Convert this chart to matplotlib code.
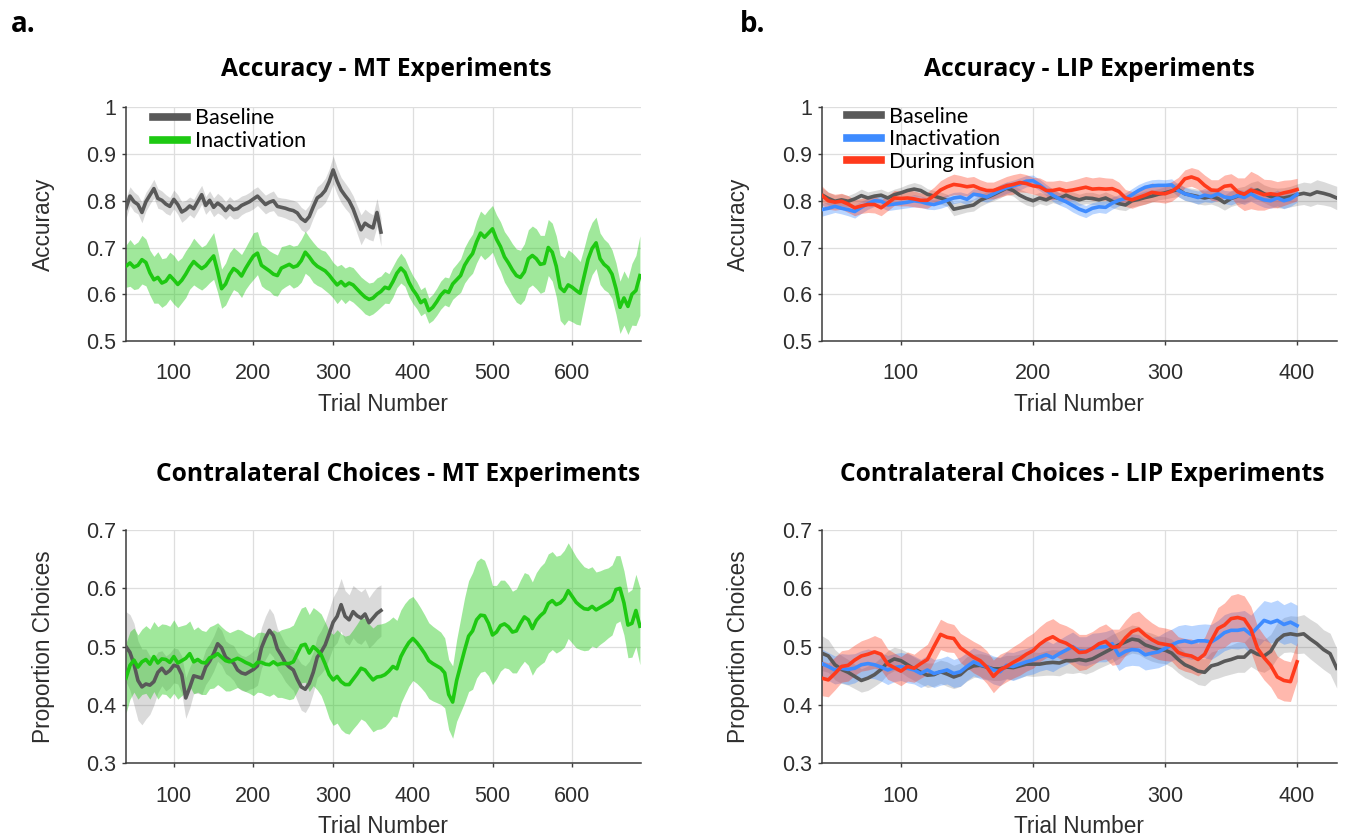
import numpy as np
import matplotlib
matplotlib.use("Agg")
import matplotlib.pyplot as plt
from matplotlib.lines import Line2D

# ---------------------------------------------------------------- data
# Trial numbers (running-window centres)
trials_mt_base = np.arange(40, 361, 5)
trials_mt_inact = np.arange(40, 686, 5)
trials_lip_base = np.arange(40, 431, 5)
trials_lip_inact = np.arange(40, 401, 5)
trials_lip_inf = np.arange(40, 401, 5)

# Accuracy - MT experiments
mt_acc_base = [
    0.784, 0.810, 0.798, 0.792, 0.775, 0.798, 0.812, 0.826, 0.805, 0.801, 0.793, 0.788,
    0.803, 0.792, 0.776, 0.781, 0.789, 0.783, 0.798, 0.813, 0.790, 0.801, 0.786, 0.795,
    0.789, 0.779, 0.789, 0.781, 0.783, 0.790, 0.794, 0.798, 0.804, 0.810, 0.801, 0.792,
    0.797, 0.800, 0.788, 0.786, 0.784, 0.781, 0.779, 0.774, 0.762, 0.756, 0.766, 0.787,
    0.806, 0.812, 0.822, 0.841, 0.866, 0.842, 0.823, 0.811, 0.800, 0.783, 0.760, 0.738,
    0.752, 0.746, 0.742, 0.775, 0.733]
mt_acc_base_err = [
    0.022, 0.020, 0.021, 0.020, 0.022, 0.020, 0.019, 0.020, 0.021, 0.020, 0.020, 0.019,
    0.020, 0.021, 0.022, 0.020, 0.019, 0.020, 0.021, 0.020, 0.019, 0.020, 0.020, 0.021,
    0.020, 0.019, 0.020, 0.020, 0.021, 0.020, 0.019, 0.020, 0.021, 0.020, 0.020, 0.020,
    0.020, 0.021, 0.020, 0.020, 0.021, 0.022, 0.022, 0.023, 0.024, 0.024, 0.025, 0.024,
    0.024, 0.025, 0.026, 0.027, 0.030, 0.028, 0.027, 0.027, 0.026, 0.028, 0.030, 0.032,
    0.030, 0.029, 0.028, 0.030, 0.030]
mt_acc_inact = [
    0.660, 0.667, 0.658, 0.662, 0.674, 0.668, 0.646, 0.631, 0.636, 0.624, 0.628, 0.640,
    0.631, 0.621, 0.630, 0.643, 0.658, 0.670, 0.662, 0.655, 0.661, 0.672, 0.682, 0.649,
    0.612, 0.622, 0.642, 0.655, 0.649, 0.639, 0.655, 0.669, 0.682, 0.688, 0.662, 0.656,
    0.650, 0.643, 0.640, 0.656, 0.660, 0.664, 0.658, 0.661, 0.672, 0.690, 0.680, 0.668,
    0.660, 0.655, 0.650, 0.641, 0.630, 0.620, 0.627, 0.618, 0.624, 0.620, 0.611, 0.602,
    0.594, 0.589, 0.592, 0.600, 0.606, 0.615, 0.612, 0.627, 0.645, 0.656, 0.647, 0.626,
    0.610, 0.598, 0.582, 0.588, 0.565, 0.572, 0.584, 0.598, 0.607, 0.604, 0.622, 0.631,
    0.640, 0.662, 0.676, 0.687, 0.712, 0.731, 0.722, 0.731, 0.740, 0.718, 0.702, 0.680,
    0.667, 0.652, 0.640, 0.636, 0.648, 0.676, 0.683, 0.676, 0.664, 0.666, 0.700, 0.690,
    0.660, 0.614, 0.606, 0.620, 0.615, 0.608, 0.602, 0.638, 0.675, 0.698, 0.710, 0.676,
    0.664, 0.657, 0.643, 0.612, 0.572, 0.592, 0.574, 0.600, 0.608, 0.640]
mt_acc_inact_err = [
    0.045, 0.050, 0.048, 0.050, 0.052, 0.050, 0.048, 0.050, 0.055, 0.052, 0.050, 0.050,
    0.052, 0.050, 0.048, 0.050, 0.047, 0.050, 0.048, 0.046, 0.045, 0.047, 0.050, 0.045,
    0.042, 0.045, 0.047, 0.045, 0.044, 0.046, 0.045, 0.047, 0.050, 0.046, 0.044, 0.045,
    0.043, 0.045, 0.044, 0.046, 0.044, 0.043, 0.045, 0.044, 0.046, 0.045, 0.042, 0.043,
    0.041, 0.040, 0.042, 0.040, 0.038, 0.040, 0.037, 0.038, 0.036, 0.037, 0.036, 0.035,
    0.036, 0.035, 0.034, 0.035, 0.033, 0.034, 0.032, 0.033, 0.031, 0.032, 0.030, 0.031,
    0.030, 0.029, 0.028, 0.028, 0.027, 0.028, 0.029, 0.030, 0.030, 0.031, 0.033, 0.034,
    0.036, 0.038, 0.040, 0.042, 0.045, 0.047, 0.048, 0.050, 0.050, 0.052, 0.053, 0.054,
    0.055, 0.056, 0.057, 0.058, 0.060, 0.062, 0.063, 0.064, 0.062, 0.060, 0.060, 0.062,
    0.065, 0.070, 0.072, 0.075, 0.074, 0.072, 0.068, 0.062, 0.058, 0.056, 0.055, 0.055,
    0.054, 0.053, 0.052, 0.055, 0.056, 0.058, 0.060, 0.066, 0.075, 0.085]

# Contralateral choices - MT experiments
mt_con_base = [
    0.500, 0.490, 0.470, 0.442, 0.431, 0.436, 0.434, 0.440, 0.456, 0.463, 0.454, 0.459,
    0.468, 0.466, 0.452, 0.412, 0.430, 0.450, 0.448, 0.446, 0.465, 0.475, 0.488, 0.505,
    0.498, 0.482, 0.477, 0.472, 0.460, 0.455, 0.453, 0.457, 0.461, 0.467, 0.498, 0.515,
    0.528, 0.519, 0.496, 0.485, 0.472, 0.465, 0.460, 0.444, 0.431, 0.427, 0.437, 0.456,
    0.482, 0.491, 0.503, 0.522, 0.542, 0.552, 0.572, 0.552, 0.546, 0.560, 0.553, 0.549,
    0.556, 0.541, 0.549, 0.557, 0.562]
mt_con_base_err = [
    0.060, 0.065, 0.070, 0.068, 0.065, 0.060, 0.050, 0.040, 0.035, 0.030, 0.030, 0.030,
    0.030, 0.030, 0.032, 0.035, 0.035, 0.030, 0.028, 0.028, 0.030, 0.030, 0.030, 0.030,
    0.030, 0.028, 0.028, 0.030, 0.030, 0.030, 0.030, 0.030, 0.032, 0.033, 0.035, 0.037,
    0.038, 0.037, 0.035, 0.033, 0.032, 0.033, 0.035, 0.037, 0.040, 0.040, 0.038, 0.035,
    0.035, 0.037, 0.040, 0.042, 0.043, 0.045, 0.045, 0.044, 0.043, 0.045, 0.046, 0.045,
    0.044, 0.043, 0.045, 0.045, 0.044]
mt_con_inact = [
    0.446, 0.468, 0.477, 0.465, 0.474, 0.478, 0.470, 0.483, 0.472, 0.479, 0.478, 0.473,
    0.483, 0.472, 0.476, 0.480, 0.488, 0.474, 0.478, 0.473, 0.472, 0.481, 0.483, 0.488,
    0.482, 0.476, 0.474, 0.477, 0.480, 0.477, 0.473, 0.470, 0.466, 0.473, 0.473, 0.470,
    0.469, 0.474, 0.469, 0.471, 0.471, 0.471, 0.474, 0.488, 0.502, 0.504, 0.489, 0.500,
    0.494, 0.486, 0.470, 0.452, 0.443, 0.449, 0.440, 0.435, 0.435, 0.444, 0.453, 0.463,
    0.460, 0.451, 0.443, 0.448, 0.449, 0.452, 0.458, 0.466, 0.462, 0.483, 0.496, 0.507,
    0.514, 0.507, 0.498, 0.488, 0.476, 0.471, 0.467, 0.463, 0.455, 0.418, 0.405, 0.442,
    0.468, 0.494, 0.518, 0.527, 0.546, 0.554, 0.553, 0.540, 0.520, 0.525, 0.536, 0.539,
    0.534, 0.525, 0.527, 0.540, 0.551, 0.546, 0.531, 0.545, 0.553, 0.559, 0.574, 0.579,
    0.572, 0.575, 0.582, 0.596, 0.586, 0.576, 0.570, 0.565, 0.564, 0.569, 0.563, 0.567,
    0.571, 0.575, 0.580, 0.598, 0.600, 0.575, 0.537, 0.540, 0.562, 0.535]
mt_con_inact_err = [
    0.060, 0.058, 0.055, 0.055, 0.056, 0.058, 0.060, 0.060, 0.062, 0.060, 0.060, 0.062,
    0.063, 0.062, 0.060, 0.058, 0.056, 0.055, 0.056, 0.055, 0.054, 0.053, 0.054, 0.053,
    0.052, 0.052, 0.050, 0.050, 0.050, 0.051, 0.050, 0.050, 0.050, 0.051, 0.052, 0.053,
    0.054, 0.055, 0.056, 0.058, 0.060, 0.062, 0.063, 0.064, 0.064, 0.065, 0.066, 0.067,
    0.068, 0.070, 0.072, 0.075, 0.078, 0.080, 0.082, 0.083, 0.085, 0.085, 0.086, 0.087,
    0.088, 0.088, 0.089, 0.090, 0.090, 0.089, 0.087, 0.085, 0.083, 0.080, 0.078, 0.075,
    0.072, 0.070, 0.068, 0.066, 0.065, 0.064, 0.063, 0.062, 0.060, 0.060, 0.062, 0.070,
    0.080, 0.090, 0.095, 0.100, 0.100, 0.098, 0.095, 0.090, 0.085, 0.080, 0.078, 0.075,
    0.072, 0.070, 0.072, 0.074, 0.076, 0.078, 0.080, 0.082, 0.084, 0.085, 0.085, 0.084,
    0.083, 0.082, 0.083, 0.082, 0.080, 0.078, 0.075, 0.072, 0.070, 0.068, 0.065, 0.063,
    0.062, 0.060, 0.060, 0.058, 0.056, 0.055, 0.056, 0.058, 0.062, 0.066]

# Accuracy - LIP experiments
lip_acc_base = [
    0.813, 0.805, 0.799, 0.802, 0.799, 0.804, 0.811, 0.806, 0.810, 0.812, 0.806, 0.813,
    0.817, 0.822, 0.825, 0.822, 0.814, 0.810, 0.806, 0.801, 0.782, 0.785, 0.788, 0.791,
    0.801, 0.807, 0.813, 0.820, 0.827, 0.822, 0.812, 0.805, 0.800, 0.806, 0.802, 0.809,
    0.805, 0.812, 0.806, 0.802, 0.806, 0.805, 0.802, 0.806, 0.799, 0.794, 0.791, 0.800,
    0.803, 0.807, 0.810, 0.814, 0.817, 0.821, 0.824, 0.815, 0.812, 0.809, 0.806, 0.809,
    0.805, 0.796, 0.805, 0.810, 0.813, 0.820, 0.823, 0.815, 0.809, 0.806, 0.806, 0.809,
    0.813, 0.816, 0.813, 0.819, 0.816, 0.812, 0.806]
lip_acc_base_err = [
    0.015, 0.014, 0.013, 0.013, 0.012, 0.013, 0.014, 0.013, 0.012, 0.013, 0.013, 0.012,
    0.012, 0.013, 0.014, 0.013, 0.012, 0.012, 0.013, 0.013, 0.014, 0.013, 0.012, 0.013,
    0.013, 0.012, 0.013, 0.014, 0.013, 0.012, 0.013, 0.014, 0.013, 0.012, 0.012, 0.013,
    0.013, 0.012, 0.013, 0.012, 0.012, 0.013, 0.012, 0.013, 0.014, 0.013, 0.012, 0.013,
    0.013, 0.014, 0.013, 0.012, 0.013, 0.014, 0.015, 0.014, 0.015, 0.016, 0.015, 0.016,
    0.017, 0.016, 0.017, 0.018, 0.018, 0.019, 0.020, 0.019, 0.020, 0.021, 0.022, 0.022,
    0.023, 0.024, 0.025, 0.026, 0.025, 0.024, 0.025]
lip_acc_inact = [
    0.781, 0.784, 0.788, 0.784, 0.781, 0.777, 0.786, 0.794, 0.800, 0.799, 0.791, 0.793,
    0.795, 0.797, 0.800, 0.798, 0.794, 0.792, 0.796, 0.801, 0.806, 0.808, 0.803, 0.814,
    0.812, 0.808, 0.815, 0.822, 0.828, 0.832, 0.836, 0.842, 0.843, 0.834, 0.823, 0.812,
    0.804, 0.798, 0.790, 0.782, 0.777, 0.784, 0.787, 0.786, 0.795, 0.801, 0.805, 0.813,
    0.822, 0.829, 0.832, 0.833, 0.833, 0.834, 0.822, 0.815, 0.811, 0.807, 0.812, 0.809,
    0.815, 0.808, 0.806, 0.811, 0.807, 0.815, 0.807, 0.802, 0.800, 0.806, 0.800, 0.804,
    0.814]
lip_acc_inact_err = [
    0.014, 0.013, 0.013, 0.012, 0.013, 0.014, 0.013, 0.012, 0.012, 0.013, 0.012, 0.012,
    0.012, 0.012, 0.013, 0.012, 0.012, 0.011, 0.012, 0.012, 0.012, 0.011, 0.012, 0.012,
    0.012, 0.011, 0.012, 0.012, 0.012, 0.012, 0.013, 0.012, 0.012, 0.012, 0.012, 0.013,
    0.013, 0.013, 0.014, 0.013, 0.013, 0.012, 0.012, 0.013, 0.013, 0.012, 0.012, 0.013,
    0.013, 0.012, 0.013, 0.013, 0.012, 0.013, 0.013, 0.014, 0.013, 0.014, 0.014, 0.013,
    0.014, 0.014, 0.015, 0.014, 0.015, 0.016, 0.015, 0.016, 0.016, 0.017, 0.017, 0.016,
    0.017]
lip_acc_inf = [
    0.812, 0.800, 0.797, 0.799, 0.793, 0.785, 0.789, 0.792, 0.792, 0.785, 0.795, 0.806,
    0.805, 0.806, 0.804, 0.801, 0.801, 0.811, 0.823, 0.830, 0.835, 0.833, 0.830, 0.832,
    0.826, 0.822, 0.822, 0.827, 0.832, 0.835, 0.839, 0.837, 0.832, 0.830, 0.822, 0.822,
    0.825, 0.821, 0.823, 0.826, 0.829, 0.825, 0.826, 0.825, 0.826, 0.820, 0.806, 0.802,
    0.807, 0.812, 0.818, 0.816, 0.815, 0.820, 0.830, 0.847, 0.851, 0.846, 0.833, 0.823,
    0.822, 0.831, 0.833, 0.819, 0.814, 0.823, 0.818, 0.813, 0.815, 0.813, 0.817, 0.820,
    0.824]
lip_acc_inf_err = [
    0.020, 0.018, 0.017, 0.017, 0.018, 0.017, 0.016, 0.017, 0.018, 0.017, 0.016, 0.016,
    0.016, 0.017, 0.017, 0.016, 0.017, 0.018, 0.020, 0.021, 0.022, 0.021, 0.020, 0.020,
    0.019, 0.018, 0.018, 0.019, 0.020, 0.021, 0.020, 0.019, 0.018, 0.019, 0.020, 0.020,
    0.019, 0.020, 0.021, 0.022, 0.023, 0.024, 0.025, 0.024, 0.022, 0.020, 0.018, 0.018,
    0.018, 0.019, 0.020, 0.019, 0.020, 0.021, 0.020, 0.019, 0.020, 0.021, 0.022, 0.022,
    0.023, 0.024, 0.025, 0.030, 0.035, 0.040, 0.038, 0.033, 0.030, 0.028, 0.027, 0.025,
    0.024]

# Contralateral choices - LIP experiments
lip_con_base = [
    0.489, 0.484, 0.469, 0.461, 0.456, 0.449, 0.442, 0.446, 0.452, 0.461, 0.473, 0.479,
    0.476, 0.469, 0.462, 0.456, 0.451, 0.452, 0.457, 0.453, 0.448, 0.452, 0.462, 0.467,
    0.468, 0.465, 0.462, 0.462, 0.465, 0.464, 0.467, 0.470, 0.470, 0.470, 0.472, 0.473,
    0.472, 0.476, 0.476, 0.478, 0.476, 0.479, 0.485, 0.491, 0.497, 0.503, 0.508, 0.513,
    0.511, 0.503, 0.499, 0.495, 0.494, 0.489, 0.478, 0.469, 0.464, 0.458, 0.456, 0.467,
    0.470, 0.475, 0.478, 0.482, 0.482, 0.493, 0.487, 0.484, 0.492, 0.511, 0.520, 0.522,
    0.520, 0.522, 0.513, 0.505, 0.495, 0.488, 0.463]
lip_con_base_err = [
    0.030, 0.028, 0.026, 0.024, 0.022, 0.021, 0.020, 0.021, 0.020, 0.021, 0.020, 0.020,
    0.020, 0.021, 0.020, 0.020, 0.021, 0.020, 0.020, 0.021, 0.020, 0.020, 0.021, 0.020,
    0.020, 0.021, 0.020, 0.020, 0.020, 0.021, 0.020, 0.020, 0.021, 0.020, 0.021, 0.022,
    0.022, 0.021, 0.022, 0.022, 0.023, 0.022, 0.022, 0.023, 0.024, 0.023, 0.024, 0.024,
    0.024, 0.023, 0.024, 0.023, 0.023, 0.024, 0.023, 0.022, 0.022, 0.023, 0.023, 0.024,
    0.024, 0.025, 0.025, 0.026, 0.026, 0.027, 0.028, 0.028, 0.029, 0.030, 0.030, 0.031,
    0.032, 0.033, 0.034, 0.035, 0.034, 0.035, 0.034]
lip_con_inact = [
    0.471, 0.466, 0.460, 0.463, 0.461, 0.463, 0.469, 0.471, 0.469, 0.465, 0.460, 0.464,
    0.466, 0.463, 0.460, 0.454, 0.460, 0.454, 0.457, 0.460, 0.454, 0.457, 0.466, 0.474,
    0.469, 0.466, 0.460, 0.457, 0.468, 0.466, 0.470, 0.474, 0.477, 0.482, 0.486, 0.481,
    0.488, 0.494, 0.500, 0.493, 0.492, 0.497, 0.499, 0.500, 0.505, 0.485, 0.492, 0.495,
    0.494, 0.486, 0.489, 0.491, 0.497, 0.503, 0.508, 0.510, 0.507, 0.510, 0.510, 0.508,
    0.515, 0.524, 0.528, 0.528, 0.530, 0.521, 0.533, 0.545, 0.541, 0.545, 0.538, 0.542,
    0.536]
lip_con_inact_err = [
    0.025, 0.024, 0.024, 0.025, 0.026, 0.025, 0.024, 0.025, 0.024, 0.024, 0.025, 0.024,
    0.024, 0.025, 0.024, 0.024, 0.025, 0.024, 0.023, 0.024, 0.024, 0.025, 0.024, 0.024,
    0.024, 0.023, 0.024, 0.024, 0.023, 0.024, 0.024, 0.023, 0.024, 0.024, 0.025, 0.024,
    0.024, 0.025, 0.025, 0.024, 0.025, 0.026, 0.025, 0.026, 0.025, 0.026, 0.026, 0.027,
    0.027, 0.026, 0.027, 0.027, 0.028, 0.027, 0.028, 0.028, 0.029, 0.028, 0.029, 0.030,
    0.030, 0.031, 0.031, 0.032, 0.032, 0.033, 0.034, 0.034, 0.035, 0.035, 0.034, 0.035,
    0.035]
lip_con_inf = [
    0.446, 0.443, 0.454, 0.466, 0.468, 0.477, 0.484, 0.487, 0.491, 0.487, 0.470, 0.464,
    0.458, 0.466, 0.463, 0.471, 0.478, 0.500, 0.521, 0.516, 0.514, 0.498, 0.490, 0.482,
    0.476, 0.465, 0.449, 0.460, 0.466, 0.473, 0.479, 0.487, 0.493, 0.504, 0.512, 0.517,
    0.510, 0.506, 0.499, 0.490, 0.491, 0.497, 0.505, 0.509, 0.499, 0.500, 0.515, 0.526,
    0.530, 0.520, 0.512, 0.506, 0.504, 0.502, 0.490, 0.486, 0.484, 0.478, 0.487, 0.510,
    0.531, 0.537, 0.548, 0.550, 0.547, 0.530, 0.497, 0.481, 0.468, 0.448, 0.442, 0.440,
    0.474]
lip_con_inf_err = [
    0.030, 0.029, 0.028, 0.027, 0.027, 0.026, 0.026, 0.027, 0.028, 0.027, 0.026, 0.025,
    0.025, 0.025, 0.024, 0.025, 0.026, 0.026, 0.026, 0.025, 0.024, 0.025, 0.026, 0.027,
    0.027, 0.028, 0.028, 0.027, 0.026, 0.027, 0.028, 0.029, 0.030, 0.030, 0.031, 0.031,
    0.030, 0.030, 0.031, 0.031, 0.030, 0.029, 0.029, 0.030, 0.031, 0.030, 0.030, 0.031,
    0.031, 0.030, 0.029, 0.028, 0.028, 0.027, 0.027, 0.028, 0.029, 0.028, 0.029, 0.032,
    0.036, 0.038, 0.040, 0.041, 0.040, 0.039, 0.038, 0.038, 0.037, 0.036, 0.035, 0.034,
    0.033]

# Text
series_names_mt = ["Baseline", "Inactivation"]
series_names_lip = ["Baseline", "Inactivation", "During infusion"]
titles = ["Accuracy - MT Experiments", "Accuracy - LIP Experiments",
          "Contralateral Choices - MT Experiments", "Contralateral Choices - LIP Experiments"]
mt_xticks = [100, 200, 300, 400, 500, 600]
lip_xticks = [100, 200, 300, 400]
acc_yticks = [0.5, 0.6, 0.7, 0.8, 0.9, 1.0]
acc_yticklabels = ["0.5", "0.6", "0.7", "0.8", "0.9", "1"]
con_yticks = [0.3, 0.4, 0.5, 0.6, 0.7]
con_yticklabels = ["0.3", "0.4", "0.5", "0.6", "0.7"]

# ---------------------------------------------------------------- style
GRAY = "#595959"
GREEN = "#1ec912"
BLUE = "#3e8bff"
RED = "#ff3a1c"
BAND_ALPHA = {GRAY: 0.22, GREEN: 0.42, BLUE: 0.36, RED: 0.36}
TICK_FONT = "Liberation Sans"
LEGEND_FONT = "Lato"
TITLE_FONT = "Open Sans"
AXIS_COLOR = "#3c3c3c"
TEXT_COLOR = "#2e2e2e"

W, H = 1349, 840
fig = plt.figure(figsize=(W / 100, H / 100), dpi=100)


def px_axes(left, top, right, bottom):
    return fig.add_axes([left / W, 1 - bottom / H, (right - left) / W, (bottom - top) / H])


def draw_series(ax, x, y, err, color):
    y = np.asarray(y)
    err = np.asarray(err)
    ax.fill_between(x, y - err, y + err, color=color, alpha=BAND_ALPHA[color],
                    linewidth=0, zorder=2)
    ax.plot(x, y, color=color, lw=2.6, zorder=3, solid_joinstyle="round")


def style_axes(ax, xlim, xticks, ylim, yticks, yticklabels, ylabel):
    ax.set_xlim(*xlim)
    ax.set_ylim(*ylim)
    ax.set_xticks(xticks)
    ax.set_xticklabels([str(t) for t in xticks], family=TICK_FONT, fontsize=15.5,
                       color=TEXT_COLOR)
    ax.set_yticks(yticks)
    ax.set_yticklabels(yticklabels, family=TICK_FONT, fontsize=15.5, color=TEXT_COLOR)
    for side in ("top", "right"):
        ax.spines[side].set_visible(False)
    for side in ("left", "bottom"):
        ax.spines[side].set_color(AXIS_COLOR)
        ax.spines[side].set_linewidth(1.1)
    ax.tick_params(axis="both", direction="out", length=3, width=1.0, color=AXIS_COLOR)
    ax.tick_params(axis="x", pad=13)
    ax.tick_params(axis="y", pad=4)
    ax.grid(True, color="#dedede", linewidth=0.9, zorder=0)
    ax.set_axisbelow(True)
    ax.set_xlabel("Trial Number", family=TICK_FONT, fontsize=16.3, color=TEXT_COLOR)
    ax.xaxis.set_label_coords(0.5, -0.222)
    ax.set_ylabel(ylabel, family=TICK_FONT, fontsize=16.3, color=TEXT_COLOR)
    ax.yaxis.label.set_verticalalignment("center")
    ax.yaxis.set_label_coords(-0.161, 0.5)


def add_legend(ax, names, colors, anchor):
    handles = [Line2D([], [], color=c, lw=5.5) for c in colors]
    ax.legend(handles, names, loc="upper left", bbox_to_anchor=anchor, frameon=False,
              borderpad=0, borderaxespad=0, handlelength=1.6, handletextpad=0.35,
              labelspacing=0.12, prop={"family": LEGEND_FONT, "size": 15.5})


# ---------------------------------------------------------------- panels
ax_a1 = px_axes(126, 107.3, 640.7, 341)
ax_b1 = px_axes(821.7, 107.3, 1336.7, 341)
ax_a2 = px_axes(126, 530, 640.7, 763.3)
ax_b2 = px_axes(821.7, 530, 1336.7, 763.3)

# MT accuracy
draw_series(ax_a1, trials_mt_base, mt_acc_base, mt_acc_base_err, GRAY)
draw_series(ax_a1, trials_mt_inact, mt_acc_inact, mt_acc_inact_err, GREEN)
style_axes(ax_a1, (40, 686), mt_xticks, (0.5, 1.0), acc_yticks, acc_yticklabels, "Accuracy")
add_legend(ax_a1, series_names_mt, [GRAY, GREEN], (0.052, 0.995))

# LIP accuracy
draw_series(ax_b1, trials_lip_base, lip_acc_base, lip_acc_base_err, GRAY)
draw_series(ax_b1, trials_lip_inact, lip_acc_inact, lip_acc_inact_err, BLUE)
draw_series(ax_b1, trials_lip_inf, lip_acc_inf, lip_acc_inf_err, RED)
style_axes(ax_b1, (40, 430), lip_xticks, (0.5, 1.0), acc_yticks, acc_yticklabels, "Accuracy")
add_legend(ax_b1, series_names_lip, [GRAY, BLUE, RED], (0.049, 1.003))

# MT contralateral choices
draw_series(ax_a2, trials_mt_base, mt_con_base, mt_con_base_err, GRAY)
draw_series(ax_a2, trials_mt_inact, mt_con_inact, mt_con_inact_err, GREEN)
style_axes(ax_a2, (40, 686), mt_xticks, (0.3, 0.7), con_yticks, con_yticklabels,
           "Proportion Choices")

# LIP contralateral choices
draw_series(ax_b2, trials_lip_base, lip_con_base, lip_con_base_err, GRAY)
draw_series(ax_b2, trials_lip_inact, lip_con_inact, lip_con_inact_err, BLUE)
draw_series(ax_b2, trials_lip_inf, lip_con_inf, lip_con_inf_err, RED)
style_axes(ax_b2, (40, 430), lip_xticks, (0.3, 0.7), con_yticks, con_yticklabels,
           "Proportion Choices")

# Titles and panel letters
title_kw = dict(family=TITLE_FONT, fontweight="bold", fontsize=17.7, color="black",
                ha="center", va="baseline")
fig.text(386 / W, 1 - 76 / H, titles[0], **title_kw)
fig.text(1089 / W, 1 - 76 / H, titles[1], **title_kw)
fig.text(398 / W, 1 - 481.5 / H, titles[2], **title_kw)
fig.text(1082 / W, 1 - 481.5 / H, titles[3], **title_kw)

letter_kw = dict(family=TITLE_FONT, fontweight="bold", fontsize=20, color="black",
                 ha="left", va="baseline")
fig.text(11 / W, 1 - 32 / H, "a.", **letter_kw)
fig.text(740 / W, 1 - 32 / H, "b.", **letter_kw)

fig.savefig("out.png", dpi=100, facecolor="white")
